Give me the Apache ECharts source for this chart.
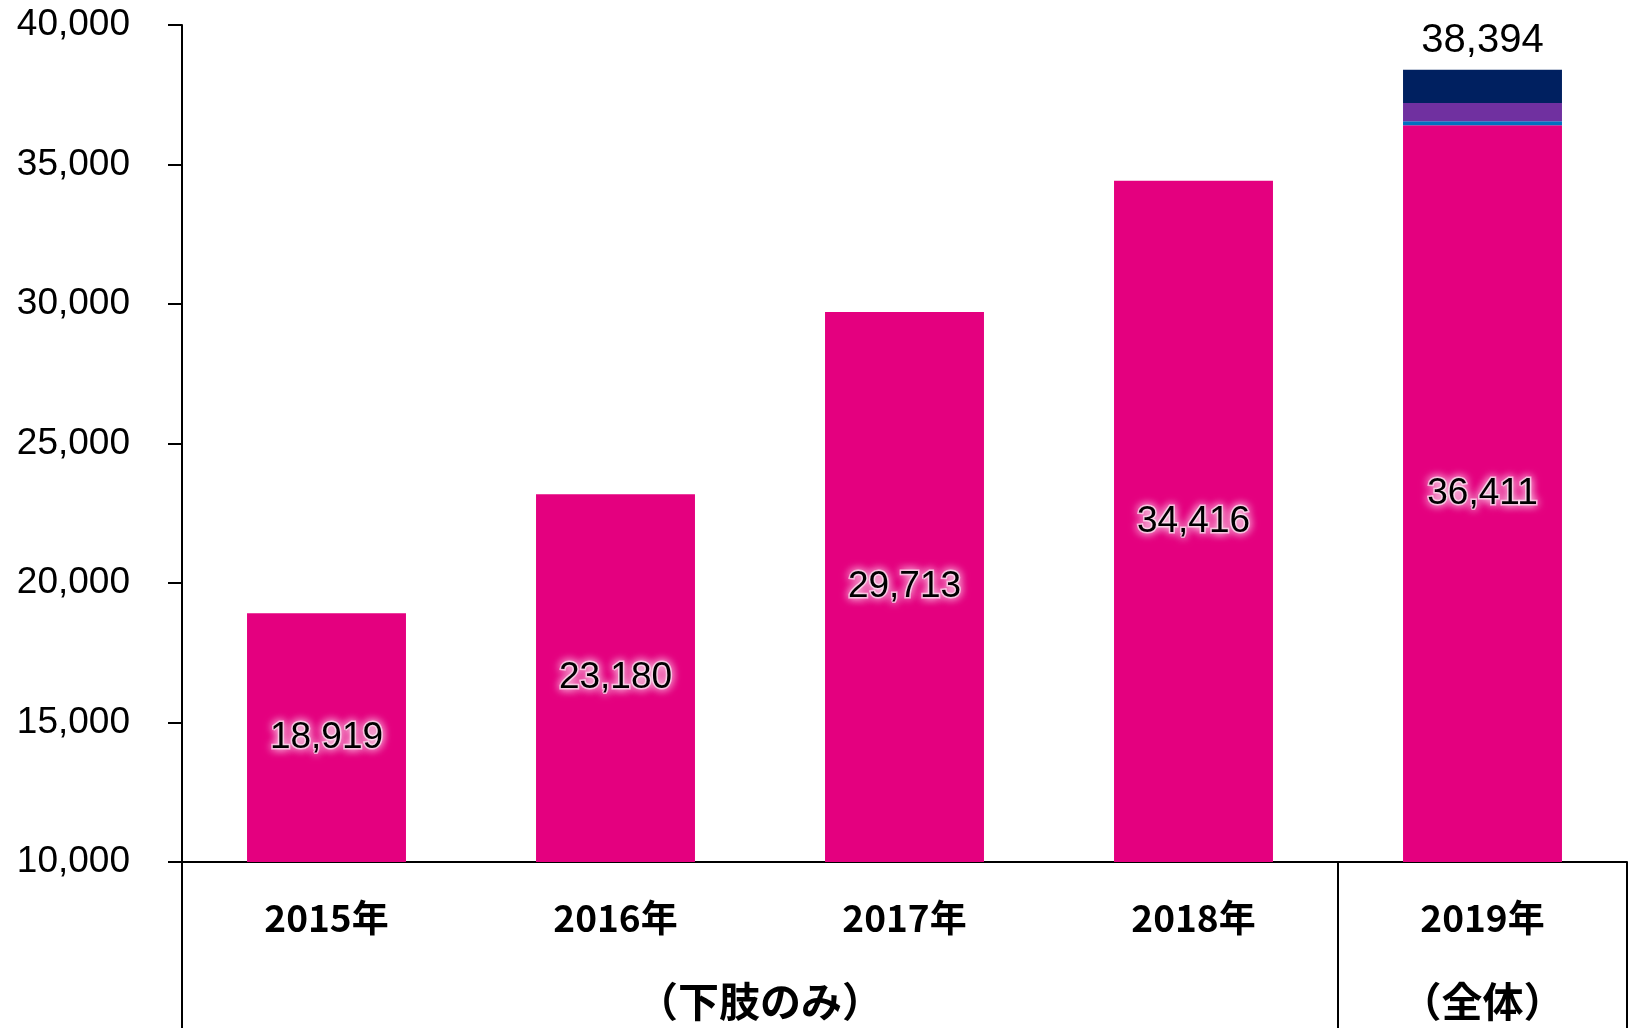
<!DOCTYPE html>
<html>
<head>
<meta charset="utf-8">
<script src="https://cdn.jsdelivr.net/npm/echarts@6/dist/echarts.min.js"></script>
<style>
html,body{margin:0;padding:0;background:#fff;}
#chart{width:1630px;height:1028px;}
</style>
</head>
<body>
<div id="chart"></div>
<script>
const categories = ['2015年', '2016年', '2017年', '2018年', '2019年'];
const pinkValues = [18919, 23180, 29713, 34416, 36411];
const blueValues = [null, null, null, null, 138];
const purpleValues = [null, null, null, null, 655];
const navyValues = [null, null, null, null, 1190];
const totals = [null, null, null, null, 38394];
const groupLabels = { 4: '（下肢のみ）', 9: '（全体）' };
const yTicks = { min: 10000, max: 40000, interval: 5000 };

const chart = echarts.init(document.getElementById('chart'));
const numFont = "'Liberation Sans', Arial, sans-serif";
const cjkFont = "'Noto Sans CJK JP', sans-serif";
const fmt = v => v.toLocaleString('en-US');

chart.setOption({
  animation: false,
  grid: { left: 182, right: 1, top: 25, bottom: 166, containLabel: false },
  xAxis: [
    {
      type: 'category',
      data: categories,
      position: 'bottom',
      axisLine: { onZero: false, lineStyle: { color: '#000', width: 2 } },
      axisTick: {
        show: true,
        interval: (i) => i === 0 || i === 4,
        length: 166,
        inside: false,
        lineStyle: { color: '#000', width: 2 }
      },
      axisLabel: {
        margin: 37,
        fontSize: 37,
        fontWeight: 'bold',
        fontFamily: cjkFont,
        color: '#000'
      },
      splitLine: { show: false }
    },
    {
      type: 'value',
      position: 'bottom',
      min: 0, max: 10, interval: 1,
      axisLine: { show: false, onZero: false },
      axisTick: { show: false },
      splitLine: { show: false },
      axisLabel: {
        margin: 119,
        showMinLabel: true, showMaxLabel: true,
        fontSize: 41,
        fontWeight: 'bold',
        fontFamily: cjkFont,
        color: '#000',
        formatter: v => groupLabels[v] || ''
      }
    }
  ],
  yAxis: {
    type: 'value',
    min: yTicks.min, max: yTicks.max, interval: yTicks.interval,
    axisLine: { show: true, onZero: false, lineStyle: { color: '#000', width: 2 } },
    axisTick: { show: true, length: 14, inside: false, lineStyle: { color: '#000', width: 2 } },
    splitLine: { show: false },
    axisLabel: {
      margin: 52,
      fontSize: 37,
      fontFamily: numFont,
      color: '#000',
      formatter: fmt
    }
  },
  series: [
    {
      type: 'bar', stack: 's', xAxisIndex: 0, barWidth: '55%',
      data: pinkValues,
      itemStyle: { color: '#E4007F' },
      label: {
        show: true, position: 'inside',
        fontSize: 37, fontFamily: numFont, color: '#000',
        textBorderColor: 'rgba(255,255,255,0.6)', textBorderWidth: 3,
        textShadowColor: '#fff', textShadowBlur: 10,
        formatter: p => fmt(p.value)
      }
    },
    {
      type: 'bar', stack: 's', xAxisIndex: 0, barWidth: '55%',
      data: blueValues,
      itemStyle: { color: '#0070C0' }
    },
    {
      type: 'bar', stack: 's', xAxisIndex: 0, barWidth: '55%',
      data: purpleValues,
      itemStyle: { color: '#7030A0' }
    },
    {
      type: 'bar', stack: 's', xAxisIndex: 0, barWidth: '55%',
      data: navyValues,
      itemStyle: { color: '#002060' },
      label: {
        show: true, position: 'top', distance: 9,
        fontSize: 40, fontFamily: numFont, color: '#000',
        formatter: p => totals[p.dataIndex] != null ? fmt(totals[p.dataIndex]) : ''
      }
    }
  ]
});
</script>
</body>
</html>
